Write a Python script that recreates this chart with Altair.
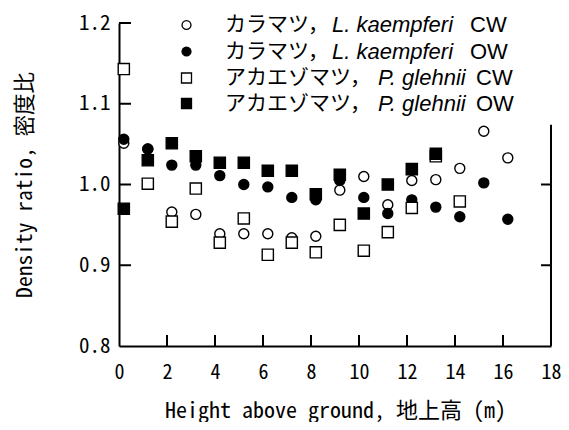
import altair as alt
import pandas as pd

# ---- data ----
heights = [0.2, 1.2, 2.2, 3.2, 4.2, 5.2, 6.2, 7.2, 8.2, 9.2, 10.2, 11.2, 12.2, 13.2, 14.2, 15.2, 16.2]
larch_cw = [1.051, 1.044, 0.966, 0.963, 0.939, 0.939, 0.939, 0.934, 0.936, 0.993, 1.010, 0.975, 1.005, 1.006, 1.020, 1.066, 1.033]
larch_ow = [1.056, 1.044, 1.024, 1.024, 1.011, 1.000, 0.997, 0.984, 0.981, 1.005, 0.984, 0.964, 0.981, 0.972, 0.960, 1.002, 0.957]
spruce_cw = [1.143, 1.001, 0.954, 0.995, 0.928, 0.958, 0.913, 0.928, 0.916, 0.950, 0.918, 0.941, 0.971, 1.035, 0.979]
spruce_ow = [0.970, 1.030, 1.051, 1.035, 1.027, 1.027, 1.017, 1.017, 0.988, 1.012, 0.964, 1.000, 1.019, 1.038]

x_tick_values = [0, 2, 4, 6, 8, 10, 12, 14, 16, 18]
x_inner_ticks = [2, 4, 6, 8, 10, 12, 14, 16]
y_tick_values = [0.8, 0.9, 1.0, 1.1, 1.2]
y_inner_ticks = [0.9, 1.0, 1.1, 1.2]
right_inner_ticks = [0.9, 1.0]
right_line_top = 1.074

legend_jp = ["カラマツ，", "カラマツ，", "アカエゾマツ，", "アカエゾマツ，"]
legend_sp = ["L. kaempferi", "L. kaempferi", "P. glehnii", "P. glehnii"]
legend_wood = ["CW", "OW", "CW", "OW"]

x_title = "Height above ground, 地上高 (m)"
y_title = "Density ratio, 密度比"

# ---- layout ----
W, H = 432, 323
MONO = "Noto Sans Mono CJK JP"
JP = "Noto Sans CJK JP"
LAT = "Liberation Sans"

xscale = alt.Scale(domain=[0, 18], nice=False, zero=False)
yscale = alt.Scale(domain=[0.8, 1.2], nice=False, zero=False)

x_axis = alt.Axis(values=x_tick_values, ticks=False, grid=False, domain=True,
                  domainColor="black", domainWidth=2, labelFont=MONO, labelFontSize=20,
                  labelColor="black", labelPadding=16, labelFlush=False,
                  title=x_title, titleFont=MONO, titleFontSize=22, titleFontWeight="normal",
                  titleColor="black", titleY=64, titleBaseline="middle")
y_axis = alt.Axis(values=y_tick_values, format=".1f", ticks=False, grid=False, domain=True,
                  domainColor="black", domainWidth=2, labelFont=MONO, labelFontSize=21,
                  labelColor="black", labelPadding=9, labelFlush=False,
                  title=y_title, titleFont=MONO, titleFontSize=21.5, titleFontWeight="normal",
                  titleColor="black", titleX=-94, titleY=H / 2, titleAlign="center",
                  titleBaseline="middle", titleAngle=270)

X = alt.X("h:Q", scale=xscale, axis=x_axis)
Y = alt.Y("v:Q", scale=yscale, axis=y_axis)


def series_df(vals):
    return pd.DataFrame({"h": heights[:len(vals)], "v": vals})


def pts(vals, shape, filled, size):
    fill = "black" if filled else "white"
    return alt.Chart(series_df(vals)).mark_point(
        shape=shape, filled=False, fill=fill, fillOpacity=1,
        stroke="black", strokeWidth=1.4, size=size, opacity=1).encode(x=X, y=Y)


layers = [
    pts(larch_cw, "circle", False, 100),
    pts(larch_ow, "circle", True, 100),
    pts(spruce_cw, "square", False, 125),
    pts(spruce_ow, "square", True, 125),
]

# inward ticks and right-hand line
layers.append(alt.Chart(pd.DataFrame({"v": y_inner_ticks})).mark_rule(color="black", strokeWidth=2).encode(
    y=Y, x=alt.value(0), x2=alt.value(12)))
layers.append(alt.Chart(pd.DataFrame({"h": x_inner_ticks})).mark_rule(color="black", strokeWidth=2).encode(
    x=X, y=alt.value(H - 11), y2=alt.value(H)))
layers.append(alt.Chart(pd.DataFrame({"v": right_inner_ticks})).mark_rule(color="black", strokeWidth=2).encode(
    y=Y, x=alt.value(W - 10), x2=alt.value(W)))
layers.append(alt.Chart(pd.DataFrame({"h": [18], "v": [0.8], "v2": [right_line_top]})).mark_rule(
    color="black", strokeWidth=2).encode(x=X, y=Y, y2="v2:Q"))

# manual legend
row_y = [2, 28.5, 55, 80.5]
shapes = [("circle", False, 80), ("circle", True, 80), ("square", False, 100), ("square", True, 100)]
sp_x = [213, 213, 259, 259]
wood_x = [351, 351, 357, 357]
one = pd.DataFrame({"a": [0]})
for i in range(4):
    shp, filled, sz = shapes[i]
    layers.append(alt.Chart(one).mark_point(shape=shp, filled=False, fill="black" if filled else "white",
                                            fillOpacity=1, stroke="black", strokeWidth=1.3, size=sz,
                                            opacity=1).encode(x=alt.value(67.5), y=alt.value(row_y[i])))
    layers.append(alt.Chart(one).mark_text(text=legend_jp[i], font=JP, fontSize=21, align="left",
                                           baseline="middle", color="black").encode(
        x=alt.value(106), y=alt.value(row_y[i])))
    layers.append(alt.Chart(one).mark_text(text=legend_sp[i], font=LAT, fontSize=22, fontStyle="italic",
                                           align="left", baseline="middle", color="black").encode(
        x=alt.value(sp_x[i]), y=alt.value(row_y[i])))
    layers.append(alt.Chart(one).mark_text(text=legend_wood[i], font=LAT, fontSize=22,
                                           align="left", baseline="middle", color="black").encode(
        x=alt.value(wood_x[i]), y=alt.value(row_y[i])))

chart = alt.layer(*layers).properties(
    width=W, height=H,
    autosize=alt.AutoSizeParams(type="none"),
    padding={"left": 111, "top": 15, "right": 10, "bottom": 76},
    background="white",
).configure_view(stroke="transparent")

chart.save("out.html", embed_options={"renderer": "svg", "actions": False})
